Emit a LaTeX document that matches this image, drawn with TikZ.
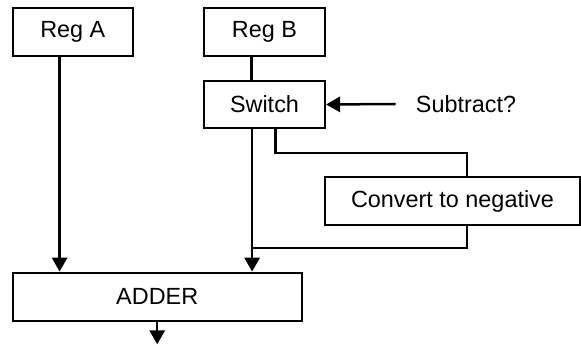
\documentclass[tikz,border=0pt]{standalone}
\usepackage{fontspec}
\setmainfont{Liberation Sans}
\usepackage{tikz}
\usetikzlibrary{arrows.meta,positioning,calc}
\tikzset{
  regbox/.style={draw,line width=1.1pt,inner sep=0pt,font=\fontsize{11.7}{14}\selectfont},
  wire/.style={line width=1.25pt},
  flow/.style={wire,-{Triangle[length=7pt,width=7.6pt]}}
}

\begin{document}
\begin{tikzpicture}[x=0.5pt,y=-0.5pt]
        \useasboundingbox (0,0) rectangle (581,346);

        % registers and blocks
        \node[regbox,minimum width=60.15pt,minimum height=24pt] (regA)   at (72.85,32)  {Reg A};
        \node[regbox,minimum width=60.5pt,minimum height=24pt]  (regB)   at (264.5,32)  {Reg B};
        \node[regbox,minimum width=60.5pt,minimum height=23.5pt] (switch) at (264.5,104.5) {Switch};
        \node[regbox,minimum width=127.5pt,minimum height=24pt] (conv)   at (452.5,201) {Convert to negative};
        \node[regbox,minimum width=144.5pt,minimum height=24pt] (adder)  at (157.2,296.7) {ADDER};
        \node[font=\fontsize{11.7}{14}\selectfont,inner sep=0pt] (sub) at (466,104) {Subtract?};

        % tap points on the blocks
        \coordinate (inA)     at ($(adder.north west)+(48,0)$);
        \coordinate (inB)     at ($(adder.north west)+(240.5,0)$);
        \coordinate (bTop)    at ($(switch.north west)+(48.5,0)$);
        \coordinate (swNeg)   at ($(switch.south west)+(72.5,0)$);
        \coordinate (convIn)  at ($(conv.north west)+(143,0)$);
        \coordinate (convOut) at ($(conv.south west)+(143,0)$);
        \coordinate (out)     at ($(adder.south)+(0,22.5)$);

        % operand paths
        \draw[flow] (regA.south -| inA) -- (inA);
        \draw[wire] (regB.south -| bTop) -- (bTop);
        \draw[flow] (switch.south -| inB) -- (inB);

        % negation branch
        \draw[wire] (swNeg) -- ++(0,23.7) -| (convIn);
        \draw[wire] (convOut) -- ++(0,21.7) coordinate (back) -- (back -| inB);

        % control input and result
        \draw[flow] ([xshift=-10pt]sub.west) -- (switch.east);
        \draw[flow] (adder.south) -- (out);
      \end{tikzpicture}
\end{document}
